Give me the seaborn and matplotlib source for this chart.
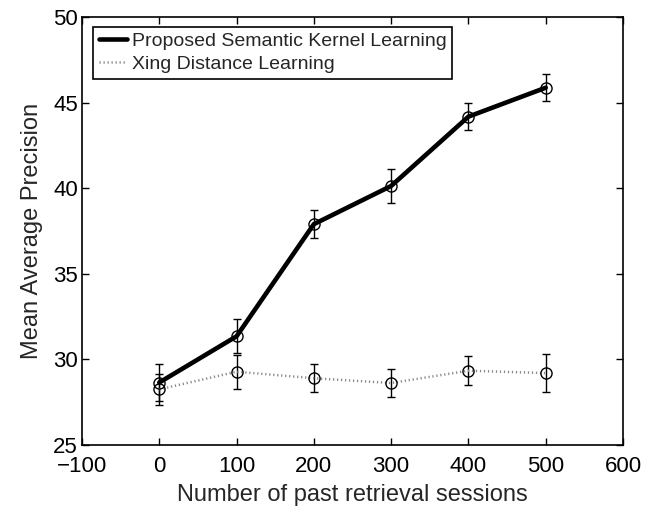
import matplotlib
matplotlib.use("Agg")
import matplotlib.pyplot as plt
import seaborn as sns
import pandas as pd

# Mean average precision vs. number of past retrieval sessions
sessions = [0, 100, 200, 300, 400, 500]
semantic_map = [28.65, 31.35, 37.9, 40.13, 44.18, 45.87]
semantic_err = [1.1, 1.0, 0.8, 1.0, 0.8, 0.8]
xing_map = [28.25, 29.28, 28.9, 28.62, 29.34, 29.2]
xing_err = [0.9, 1.0, 0.82, 0.8, 0.85, 1.1]

xtick_values = [-100, 0, 100, 200, 300, 400, 500, 600]
ytick_values = [25, 30, 35, 40, 45, 50]

label_semantic = "Proposed Semantic Kernel Learning"
label_xing = "Xing Distance Learning"

sns.set_theme(style="white")
plt.rcParams["font.family"] = ["Liberation Sans", "DejaVu Sans"]

df = pd.DataFrame({
    "sessions": sessions * 2,
    "map": semantic_map + xing_map,
    "method": [label_semantic] * len(sessions) + [label_xing] * len(sessions),
})

fig = plt.figure(figsize=(6.66, 5.17), dpi=100)
ax = fig.add_axes([82 / 666, 1 - 445 / 517, (623 - 82) / 666, (445 - 17) / 517])

# Error bars first, so the lines sit on top
ax.errorbar(sessions, semantic_map, yerr=semantic_err, fmt="none",
            ecolor="black", elinewidth=1.0, capsize=3, capthick=1.0, zorder=2)
ax.errorbar(sessions, xing_map, yerr=xing_err, fmt="none",
            ecolor="black", elinewidth=1.0, capsize=3, capthick=1.0, zorder=2)

sns.lineplot(data=df[df["method"] == label_xing], x="sessions", y="map",
             ax=ax, color="#8a8a8a", linewidth=1.8, linestyle=(0, (0.5, 1.1)),
             marker="o", markersize=8, markerfacecolor="none",
             markeredgecolor="black", markeredgewidth=1.0,
             label=label_xing, zorder=3)
sns.lineplot(data=df[df["method"] == label_semantic], x="sessions", y="map",
             ax=ax, color="black", linewidth=3.3,
             marker="o", markersize=8, markerfacecolor="none",
             markeredgecolor="black", markeredgewidth=1.0,
             label=label_semantic, zorder=4)

ax.set_xlim(-100, 600)
ax.set_ylim(25, 50)
ax.set_xticks(xtick_values)
ax.set_yticks(ytick_values)
ax.set_xticklabels(["\u2212" + str(-t) if t < 0 else str(t) for t in xtick_values])

ax.tick_params(direction="in", length=5, width=1.0, colors="black",
               labelsize=16, top=True, right=True, bottom=True, left=True)
ax.tick_params(axis="x", pad=8)
ax.tick_params(axis="y", pad=3)
for side in ax.spines.values():
    side.set_color("black")
    side.set_linewidth(1.2)

ax.set_xlabel("Number of past retrieval sessions", fontsize=17, labelpad=5)
ax.set_ylabel("Mean Average Precision", fontsize=17, labelpad=7)

handles, labels = ax.get_legend_handles_labels()
order = [labels.index(label_semantic), labels.index(label_xing)]
leg = ax.legend([handles[i] for i in order], [labels[i] for i in order],
                loc="upper left", bbox_to_anchor=(0.02, 0.977),
                fontsize=14, frameon=True, fancybox=False, framealpha=1,
                edgecolor="black", handlelength=1.45, handletextpad=0.25,
                borderpad=0.3, labelspacing=0.25, borderaxespad=0)
leg.get_frame().set_linewidth(1.2)
for h in leg.get_lines():
    h.set_marker("None")

fig.savefig("out.png", dpi=100)
